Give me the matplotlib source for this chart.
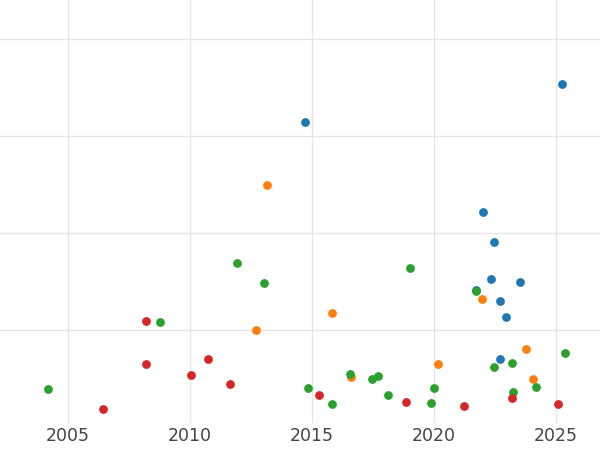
import matplotlib
matplotlib.use("Agg")
import matplotlib.pyplot as plt

blue_x = [2014.71, 2025.25, 2022.01, 2022.46, 2022.34, 2021.72, 2022.70, 2023.52, 2022.95, 2022.70]
blue_y = [3.14, 3.53, 2.21, 1.91, 1.52, 1.41, 1.30, 1.49, 1.13, 0.70]
orange_x = [2013.16, 2015.82, 2012.70, 2021.97, 2020.16, 2016.60, 2023.77, 2024.06]
orange_y = [2.49, 1.17, 1.00, 1.32, 0.65, 0.51, 0.80, 0.49]
green_x = [2004.18, 2008.77, 2011.93, 2013.03, 2019.02, 2014.84, 2015.82, 2016.56, 2017.46, 2017.70,
           2018.11, 2019.88, 2020.0, 2021.72, 2022.46, 2023.20, 2023.24, 2024.18, 2025.37]
green_y = [0.39, 1.08, 1.69, 1.48, 1.64, 0.40, 0.24, 0.54, 0.49, 0.52,
           0.33, 0.25, 0.40, 1.40, 0.62, 0.66, 0.36, 0.41, 0.76]
red_x = [2006.43, 2008.20, 2008.20, 2010.74, 2010.04, 2011.64, 2015.29, 2018.85, 2021.23, 2023.20, 2025.08]
red_y = [0.18, 1.09, 0.65, 0.70, 0.53, 0.44, 0.33, 0.26, 0.22, 0.30, 0.24]
xticks = [2005, 2010, 2015, 2020, 2025]

fig = plt.figure(figsize=(6, 4.5), dpi=100)
ax = fig.add_axes([0, 0.06, 1, 0.94])
for x, y, c in [(blue_x, blue_y, '#1f77b4'), (orange_x, orange_y, '#ff7f0e'),
                (green_x, green_y, '#2ca02c'), (red_x, red_y, '#d62728')]:
    ax.scatter(x, y, s=40, color=c, linewidths=0, zorder=3)
ax.set_xlim(2002.21, 2026.80)
ax.set_ylim(0.04, 4.40)
ax.set_xticks(xticks)
ax.set_yticks([1, 2, 3, 4])
ax.set_yticklabels([])
ax.grid(True, color='#e6e6e6', linewidth=1)
ax.tick_params(length=0, labelsize=12.5, labelcolor='#444444', pad=3)
for s in ax.spines.values():
    s.set_visible(False)
fig.savefig("out.png")
